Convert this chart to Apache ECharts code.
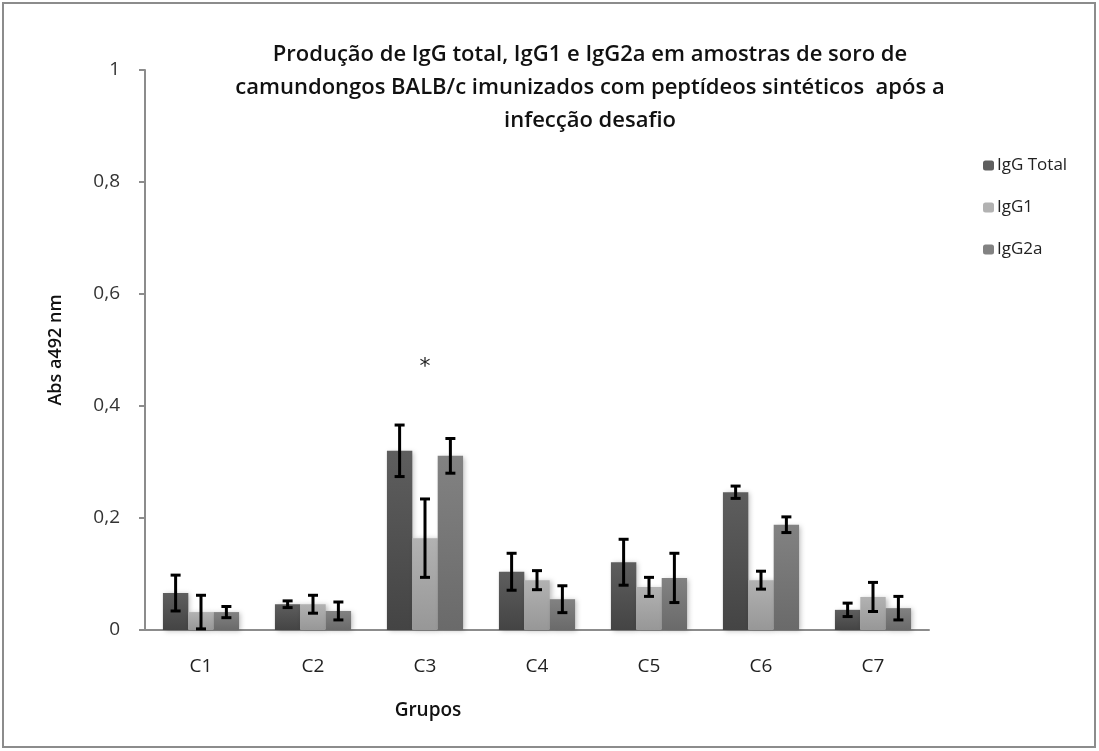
<!DOCTYPE html>
<html>
<head>
<meta charset="utf-8">
<script src="https://cdn.jsdelivr.net/npm/echarts@6/dist/echarts.min.js"></script>
<style>
html, body { margin: 0; padding: 0; background: #fff; }
#main { width: 1099px; height: 751px; }
</style>
</head>
<body>
<div id="main"></div>
<script>
var groups = ['C1', 'C2', 'C3', 'C4', 'C5', 'C6', 'C7'];
var seriesNames = ['IgG Total', 'IgG1', 'IgG2a'];

var iggTotal = [0.066, 0.046, 0.320, 0.104, 0.121, 0.246, 0.036];
var igg1 = [0.032, 0.046, 0.164, 0.089, 0.077, 0.089, 0.059];
var igg2a = [0.032, 0.034, 0.311, 0.055, 0.093, 0.188, 0.039];

var errTotal = [0.032, 0.006, 0.046, 0.033, 0.041, 0.011, 0.012];
var err1 = [0.030, 0.016, 0.070, 0.017, 0.017, 0.016, 0.026];
var err2a = [0.010, 0.016, 0.031, 0.024, 0.044, 0.014, 0.021];

var values = [iggTotal, igg1, igg2a];
var errors = [errTotal, err1, err2a];
var colors = [
    ['#5e5e5e', '#444444'],
    ['#b2b2b2', '#979797'],
    ['#828282', '#6a6a6a']
];
var catGap = 0.32;

var chartDom = document.getElementById('main');
var myChart = echarts.init(chartDom);
var option;

function errorSeries(idx) {
    var data = groups.map(function (g, i) {
        return [i, values[idx][i] - errors[idx][i], values[idx][i] + errors[idx][i]];
    });
    return {
        type: 'custom',
        name: seriesNames[idx] + ' erro',
        z: 10,
        silent: true,
        data: data,
        renderItem: function (params, api) {
            var band = api.size([1, 0])[0];
            var bw = band * (1 - catGap) / 3;
            var low = api.coord([api.value(0), api.value(1)]);
            var high = api.coord([api.value(0), api.value(2)]);
            var x = low[0] + (idx - 1) * bw;
            var cap = 5;
            var st = { stroke: '#000', lineWidth: 3 };
            return {
                type: 'group',
                children: [
                    { type: 'line', shape: { x1: x, y1: high[1], x2: x, y2: low[1] }, style: st },
                    { type: 'line', shape: { x1: x - cap, y1: high[1], x2: x + cap, y2: high[1] }, style: st },
                    { type: 'line', shape: { x1: x - cap, y1: low[1], x2: x + cap, y2: low[1] }, style: st }
                ]
            };
        }
    };
}

function barSeries(idx) {
    var s = {
        type: 'bar',
        name: seriesNames[idx],
        data: values[idx],
        barGap: '0%',
        barCategoryGap: (catGap * 100) + '%',
        itemStyle: {
            color: new echarts.graphic.LinearGradient(0, 0, 0, 1, [
                { offset: 0, color: colors[idx][0] },
                { offset: 1, color: colors[idx][1] }
            ]),
            shadowBlur: 5,
            shadowColor: 'rgba(0,0,0,0.25)',
            shadowOffsetX: 2,
            shadowOffsetY: 1
        }
    };
    if (idx === 1) {
        // asterisco acima do grupo C3
        s.markPoint = {
            symbol: 'circle',
            symbolSize: 1,
            itemStyle: { color: 'transparent' },
            label: { show: true, formatter: '*', fontSize: 22, color: '#222', fontFamily: 'DejaVu Sans' },
            data: [{ coord: ['C3', 0.47] }]
        };
    }
    return s;
}

option = {
    backgroundColor: '#fff',
    animation: false,
    title: {
        text: 'Produção de IgG total, IgG1 e IgG2a em amostras de soro de\ncamundongos BALB/c imunizados com peptídeos sintéticos  após a\ninfecção desafio',
        left: 585,
        top: 33,
        textAlign: 'center',
        textStyle: {
            fontFamily: 'Open Sans',
            fontWeight: 600,
            fontSize: 22,
            lineHeight: 33,
            color: '#111'
        }
    },
    legend: {
        orient: 'vertical',
        left: 978,
        top: 152,
        itemGap: 25,
        itemWidth: 11,
        itemHeight: 10,
        data: seriesNames.map(function (n, i) {
            return { name: n, itemStyle: { color: colors[i][0] } };
        }),
        textStyle: { fontFamily: 'Open Sans', fontSize: 17, color: '#222', padding: [0, 0, 0, -2] }
    },
    grid: { left: 145, right: 170, top: 70, bottom: 121 },
    xAxis: {
        type: 'category',
        data: groups,
        axisLine: { lineStyle: { color: '#8c8c8c', width: 2 } },
        axisTick: { show: false },
        axisLabel: { margin: 27, fontFamily: 'Open Sans', fontSize: 19, color: '#222' }
    },
    yAxis: {
        type: 'value',
        min: 0,
        max: 1,
        interval: 0.2,
        name: 'Abs a492 nm',
        nameLocation: 'middle',
        nameGap: 80,
        nameTextStyle: { fontFamily: 'Open Sans', fontWeight: 600, fontSize: 18, color: '#111' },
        axisLine: { show: true, lineStyle: { color: '#8c8c8c', width: 2 } },
        axisTick: { show: true, inside: false, length: 6, lineStyle: { color: '#8c8c8c', width: 2 } },
        splitLine: { show: false },
        axisLabel: {
            margin: 25,
            fontFamily: 'Open Sans',
            fontSize: 19,
            color: '#333',
            formatter: function (v) { return String(v).replace('.', ','); }
        }
    },
    graphic: [
        {
            type: 'rect',
            shape: { x: 3, y: 3, width: 1092, height: 744 },
            style: { fill: 'none', stroke: '#8c8c8c', lineWidth: 2 },
            silent: true
        },
        {
            type: 'text',
            x: 428,
            y: 711,
            style: {
                text: 'Grupos',
                textAlign: 'center',
                textVerticalAlign: 'middle',
                fontFamily: 'Open Sans',
                fontWeight: 600,
                fontSize: 19,
                fill: '#111'
            }
        }
    ],
    series: [
        barSeries(0), barSeries(1), barSeries(2),
        errorSeries(0), errorSeries(1), errorSeries(2)
    ]
};

option && myChart.setOption(option);
</script>
</body>
</html>
